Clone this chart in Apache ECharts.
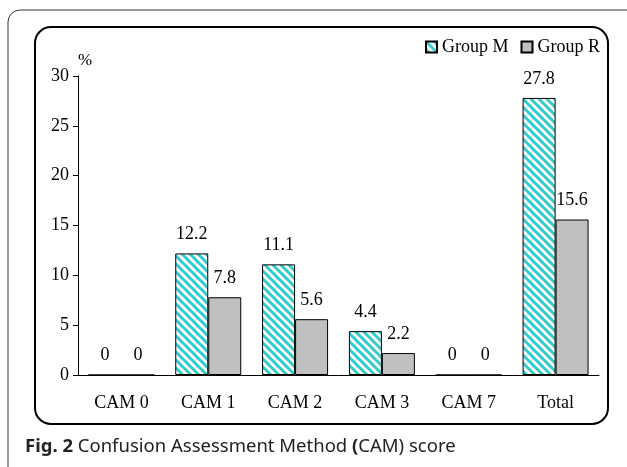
<!DOCTYPE html>
<html>
<head>
<meta charset="utf-8">
<script src="https://cdn.jsdelivr.net/npm/echarts@6/dist/echarts.min.js"></script>
<style>
  html, body { margin: 0; padding: 0; background: #fff; }
  #chart { width: 627px; height: 467px; }
</style>
</head>
<body>
<div id="chart"></div>
<script>
const categories = ["CAM 0", "CAM 1", "CAM 2", "CAM 3", "CAM 7", "Total"];
const groupM = [0, 12.2, 11.1, 4.4, 0, 27.8];
const groupR = [0, 7.8, 5.6, 2.2, 0, 15.6];
const yTicks = { min: 0, max: 30, interval: 5 };

// diagonal stripe tile for Group M
function stripeTile() {
  const s = 8;
  const c = document.createElement("canvas");
  c.width = s;
  c.height = s;
  const ctx = c.getContext("2d");
  ctx.fillStyle = "#fff";
  ctx.fillRect(0, 0, s, s);
  ctx.strokeStyle = "#33CCCC";
  ctx.lineWidth = 3;
  for (let k = -1; k <= 1; k++) {
    ctx.beginPath();
    ctx.moveTo(k * s - 1, -1);
    ctx.lineTo(k * s + s + 1, s + 1);
    ctx.stroke();
  }
  return c;
}

const serif = "Liberation Serif";
const chart = echarts.init(document.getElementById("chart"));
chart.setOption({
  animation: false,
  backgroundColor: "#fff",
  grid: { left: 78, right: 28, top: 76, bottom: 92 },
  legend: {
    right: 22,
    top: 33,
    icon: "rect",
    itemWidth: 11,
    itemHeight: 11,
    itemGap: 12,
    textStyle: { fontFamily: serif, fontSize: 18, color: "#000" },
    data: ["Group M", "Group R"]
  },
  xAxis: {
    type: "category",
    data: categories,
    axisLine: { lineStyle: { color: "#000", width: 1 } },
    axisTick: { length: 6, lineStyle: { color: "#000" } },
    axisLabel: { margin: 19, fontFamily: serif, fontSize: 18, color: "#000" }
  },
  yAxis: {
    type: "value",
    min: yTicks.min,
    max: yTicks.max,
    interval: yTicks.interval,
    name: "%",
    nameGap: 7,
    nameTextStyle: { fontFamily: serif, fontSize: 17, color: "#000", align: "left" },
    splitLine: { show: false },
    axisLine: { show: true, lineStyle: { color: "#000", width: 1 } },
    axisTick: { show: true, length: 5, lineStyle: { color: "#000" } },
    axisLabel: { margin: 9, fontFamily: serif, fontSize: 18, color: "#000" }
  },
  series: [
    {
      name: "Group M",
      type: "bar",
      data: groupM,
      barWidth: 33,
      barGap: "0%",
      itemStyle: {
        color: { image: stripeTile(), repeat: "repeat" },
        borderColor: "#000",
        borderWidth: 1
      },
      label: { show: true, position: "top", distance: 10, fontFamily: serif, fontSize: 18, color: "#000" }
    },
    {
      name: "Group R",
      type: "bar",
      data: groupR,
      barWidth: 33,
      itemStyle: { color: "#C0C0C0", borderColor: "#000", borderWidth: 1 },
      label: { show: true, position: "top", distance: 10, fontFamily: serif, fontSize: 18, color: "#000" }
    }
  ],
  graphic: [
    {
      type: "rect",
      z: -10,
      shape: { x: 8, y: 10, width: 660, height: 500, r: 12 },
      style: { fill: null, stroke: "#333", lineWidth: 1 }
    },
    {
      type: "rect",
      z: -5,
      shape: { x: 35, y: 27, width: 573, height: 397, r: 16 },
      style: { fill: null, stroke: "#000", lineWidth: 2 }
    },
    {
      type: "text",
      left: 25,
      top: 437,
      style: {
        text: "{b|Fig. 2} Confusion Assessment Method {b|(}CAM) score",
        rich: {
          b: { fontFamily: "Noto Sans", fontSize: 18.5, fontWeight: "bold", fill: "#222" }
        },
        fontFamily: "Noto Sans",
        fontSize: 18.5,
        fill: "#222"
      }
    }
  ]
});
</script>
</body>
</html>
